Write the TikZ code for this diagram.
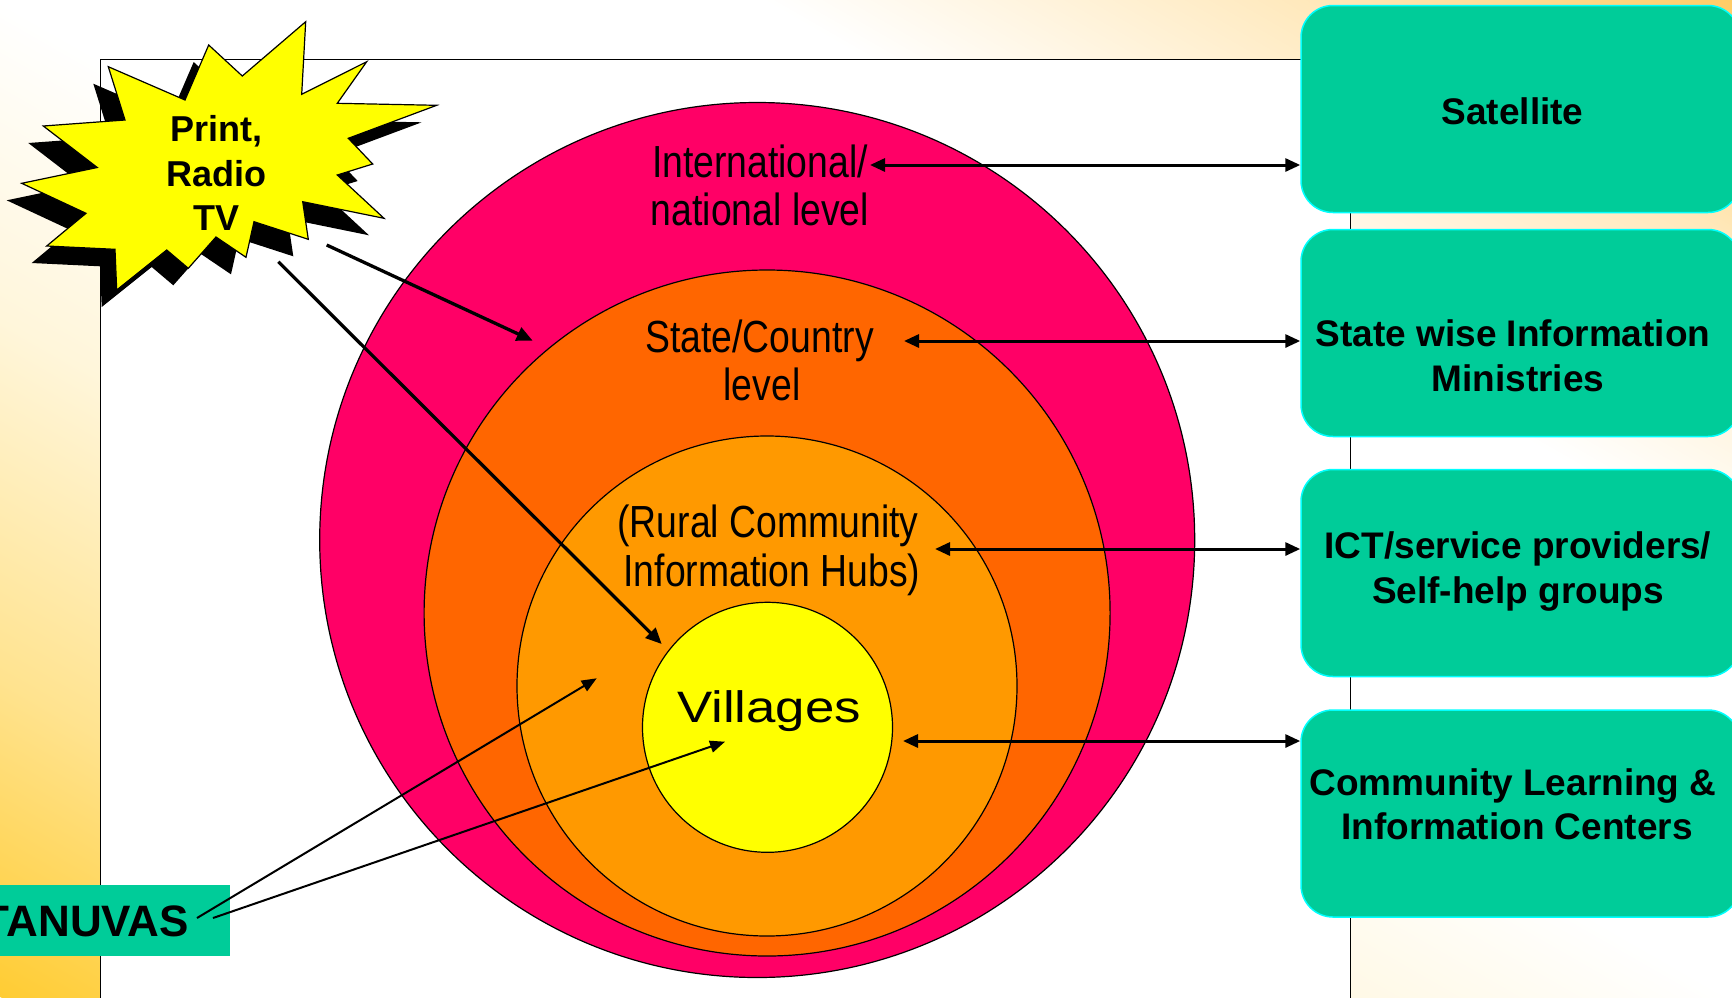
\documentclass[tikz,border=0pt]{standalone}
\usepackage{fontspec}
\setmainfont{Liberation Sans}
\newfontfamily\narrowfont[FakeStretch=0.83]{Liberation Sans}
\newfontfamily\widefont[FakeStretch=1.2]{Liberation Sans}
\usetikzlibrary{arrows.meta}
\definecolor{bgA}{RGB}{255,204,51}
\definecolor{bgB}{RGB}{255,204,102}
\colorlet{bgA55}{bgA!55!white}
\colorlet{bgA18}{bgA!18!white}
\colorlet{bgB45}{bgB!45!white}
\definecolor{cpink}{RGB}{255,0,102}
\definecolor{cdorange}{RGB}{255,102,0}
\definecolor{corange}{RGB}{255,153,0}
\definecolor{cyellow}{RGB}{255,255,0}
\definecolor{boxgreen}{RGB}{0,204,153}
\definecolor{boxedge}{RGB}{0,255,255}
\pgfdeclarehorizontalshading{bgshade}{100bp}{color(0bp)=(bgA); color(25bp)=(bgA); color(33bp)=(bgA55); color(42bp)=(bgA18); color(50bp)=(white); color(61bp)=(white); color(69bp)=(bgB45); color(75bp)=(bgB); color(100bp)=(bgB)}
\tikzset{
  ring/.style={circle, draw=black, line width=1.2pt, inner sep=0pt},
  lbl/.style={font=\narrowfont\fontsize{45}{48}\selectfont, anchor=base, inner sep=0pt},
  vill/.style={font=\widefont\fontsize{44}{48}\selectfont, anchor=base, inner sep=0pt},
  startxt/.style={font=\bfseries\fontsize{36}{44}\selectfont, anchor=base, inner sep=0pt},
  boxtxt/.style={font=\bfseries\fontsize{37}{45}\selectfont, anchor=base, inner sep=0pt},
  greenbox/.style={draw=boxedge, fill=boxgreen, line width=1.5pt, rounded corners=32pt,
                   minimum width=439pt, minimum height=207pt, inner sep=0pt},
  dbl/.style={{Triangle[length=15pt,width=13pt]}-{Triangle[length=15pt,width=13pt]}, line width=3pt},
  arr/.style={-{Triangle[length=16pt,width=14pt]}, line width=3.3pt},
  thinarr/.style={-{Triangle[length=15pt,width=12pt]}, line width=2pt},
}
\begin{document}
\begin{tikzpicture}[x=1pt,y=-1pt]
\useasboundingbox (0,0) rectangle (1732,997);
\begin{scope}
\clip (0,0) rectangle (1732,997);
% background gradient
\begin{scope}[transform canvas={shift={(866,498.5)},rotate=60.07}]
\shade[shading=bgshade] (-864,-1200) rectangle (864,1200);
\end{scope}
% white frame
\fill[white] (100.5,59.6) rectangle (1350.5,1010);
\draw[line width=1.5pt] (100.5,1010) -- (100.5,59.6) -- (1350.5,59.6) -- (1350.5,1010);

% concentric circles
\node[ring, fill=cpink, minimum size=875pt] (intl) at (757.2,540) {};
\node[ring, fill=cdorange, minimum size=686pt] (state) at (767.1,613) {};
\node[ring, fill=corange, minimum size=500pt] (hubs) at (767,686) {};
\node[ring, fill=cyellow, minimum size=250pt] (vil) at (767.5,727.3) {};

% circle labels
\node[lbl] (intlA) at (760,177) {International/};
\node[lbl] (intlB) at (760,225) {national level};
\node[lbl] (stateA) at (759.5,352) {State/Country};
\node[lbl] (stateB) at (762,400) {level};
\node[lbl] (hubsA) at (768,537) {(Rural Community};
\node[lbl] (hubsB) at (772,586) {Information Hubs)};
\node[vill] (vilA) at (769,722) {Villages};

% starburst shadow and star
\fill[black, shift={(-15,17)}] (208.7,45) -- (242.3,76) -- (305.7,21.7) -- (301.7,94.3) -- (366.7,61.7) -- (337.3,103.3) -- (436.7,105.3) -- (348.3,138.3) -- (372.7,164) -- (337.3,175) -- (384,218.3) -- (302.7,201.7) -- (308.3,239.3) -- (254,221.7) -- (246,257.3) -- (216,237) -- (188.3,268.3) -- (166.7,250) -- (116.7,290) -- (115,249.3) -- (46.7,246) -- (86,213.3) -- (21.7,183.3) -- (97.3,167.5) -- (43.3,126) -- (125,120) -- (108.3,66.7) -- (185,100) -- cycle;
\filldraw[fill=cyellow, draw=black, line width=1.2pt, line join=miter] (208.7,45) -- (242.3,76) -- (305.7,21.7) -- (301.7,94.3) -- (366.7,61.7) -- (337.3,103.3) -- (436.7,105.3) -- (348.3,138.3) -- (372.7,164) -- (337.3,175) -- (384,218.3) -- (302.7,201.7) -- (308.3,239.3) -- (254,221.7) -- (246,257.3) -- (216,237) -- (188.3,268.3) -- (166.7,250) -- (116.7,290) -- (115,249.3) -- (46.7,246) -- (86,213.3) -- (21.7,183.3) -- (97.3,167.5) -- (43.3,126) -- (125,120) -- (108.3,66.7) -- (185,100) -- cycle;
\node[startxt] (starA) at (216.7,141.7) {Print,};
\node[startxt] (starB) at (216.7,186) {Radio};
\node[startxt] (starC) at (216.7,230) {TV};

% arrows from the starburst
\coordinate (s1) at (326.7,245);
\coordinate (e1) at (532.7,340.7);
\coordinate (s2) at (278.3,261.7);
\coordinate (e2) at (661.7,644);
\draw[arr] (s1) -- (e1);
\draw[arr] (s2) -- (e2);

% TANUVAS box
\node[fill=boxgreen, minimum width=235pt, minimum height=71pt, inner sep=0pt] (tan) at (112.5,920.5) {};
\node[font=\bfseries\fontsize{44}{48}\selectfont, anchor=base, inner sep=0pt] (tanT) at (86,936.7) {TANUVAS};
\coordinate (t1s) at (197,918);
\coordinate (t2s) at (213,918);
\coordinate (t1e) at (596.7,678.3);
\coordinate (t2e) at (725,741.7);
\draw[thinarr] (t1s) -- (t1e);
\draw[thinarr] (t2s) -- (t2e);

% right boxes
\node[greenbox] (box1) at (1520.5,109) {};
\node[greenbox] (box2) at (1520.5,333) {};
\node[greenbox] (box3) at (1520.5,573) {};
\node[greenbox] (box4) at (1520.5,813.5) {};
\node[boxtxt] (b1A) at (1512.5,124) {Satellite};
\node[boxtxt] (b2A) at (1513,346.7) {State wise Information};
\node[boxtxt] (b2B) at (1518,391.7) {Ministries};
\node[boxtxt] (b3A) at (1518,558) {ICT/service providers/};
\node[boxtxt] (b3B) at (1518,603) {Self-help groups};
\node[boxtxt] (b4A) at (1513,795) {Community Learning \&};
\node[boxtxt] (b4B) at (1517,839) {Information Centers};

% double arrows
\coordinate (d1) at (870,165);
\coordinate (d2) at (904,341);
\coordinate (d3) at (935,549);
\coordinate (d4) at (903,741);
\draw[dbl] (d1) -- (d1 -| box1.west);
\draw[dbl] (d2) -- (d2 -| box2.west);
\draw[dbl] (d3) -- (d3 -| box3.west);
\draw[dbl] (d4) -- (d4 -| box4.west);
\end{scope}
\end{tikzpicture}
\end{document}
